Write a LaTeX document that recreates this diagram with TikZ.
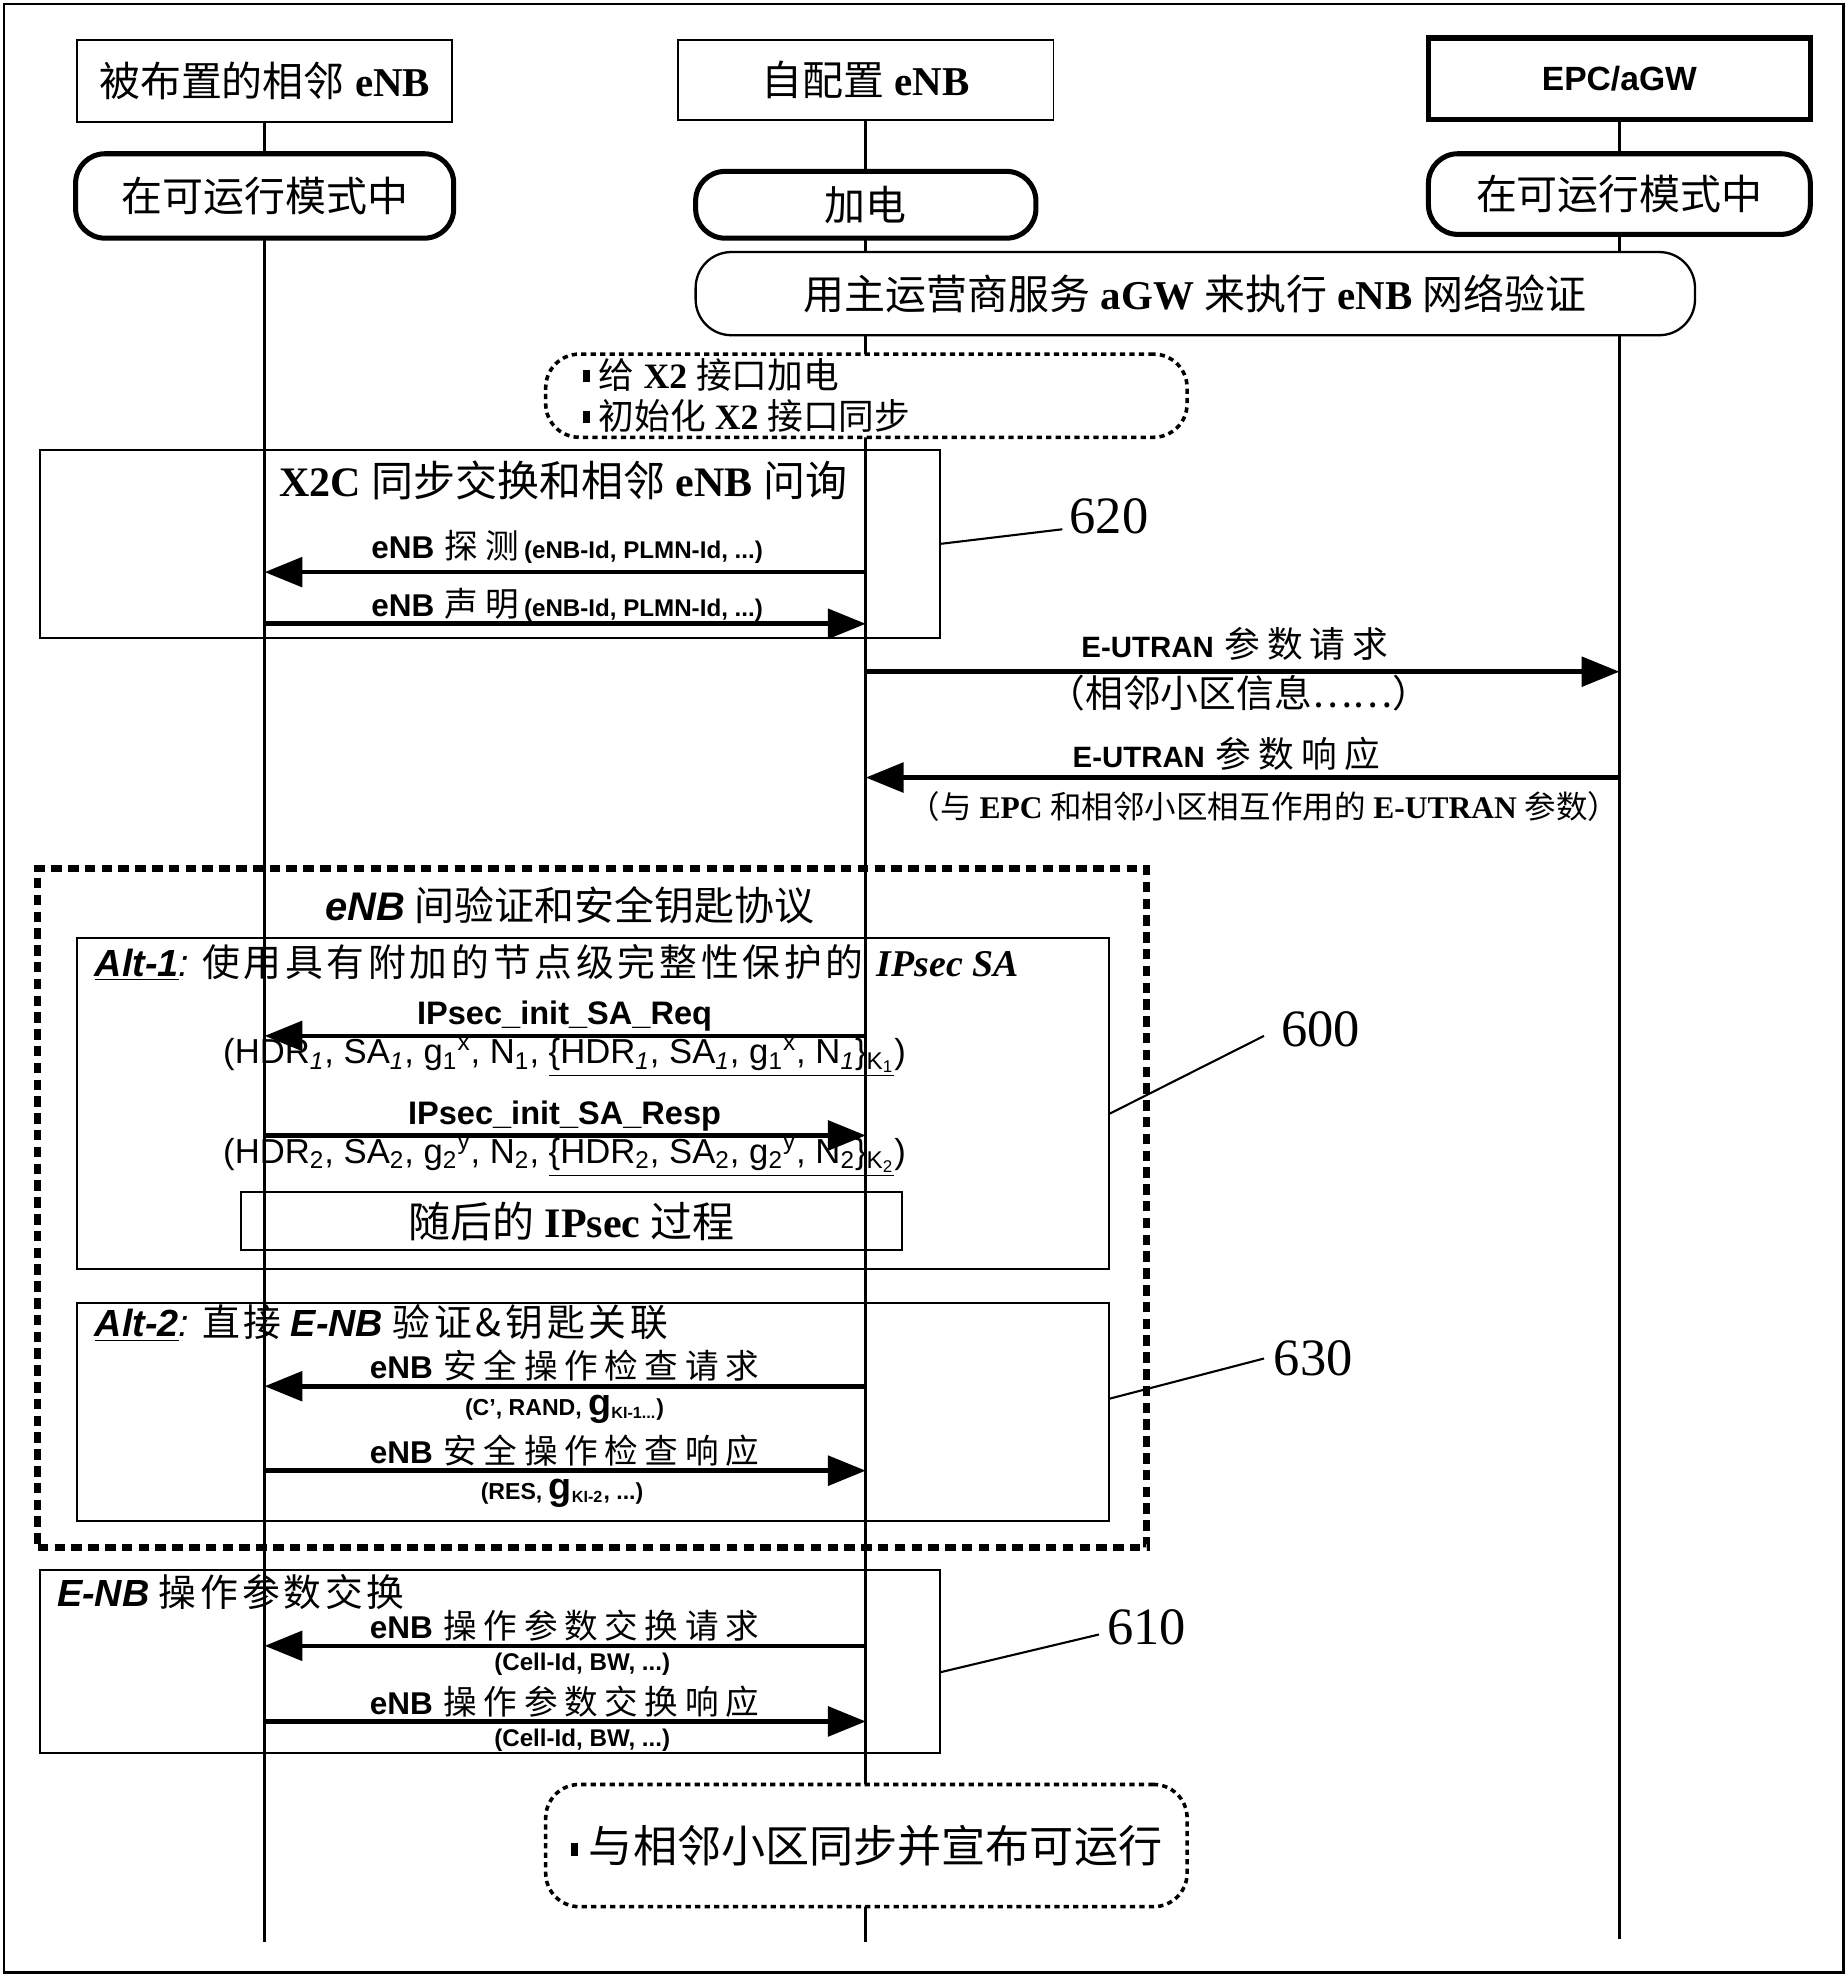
\documentclass[tikz,border=0pt]{standalone}
\usepackage{fontspec}
\setmainfont{Liberation Serif}
\newfontfamily\cjk{Noto Sans CJK SC}
\newfontfamily\cjkw[LetterSpace=20]{Noto Sans CJK SC}
\newfontfamily\cjkm[LetterSpace=10]{Noto Sans CJK SC}
\newfontfamily\ar{Liberation Sans}
\usetikzlibrary{arrows.meta}
\newcommand\zh[1]{{\cjk #1}}
\newcommand\zw[1]{{\cjkw #1}}
\newcommand\zm[1]{{\cjkm #1}}
\newcommand\fs[2]{\fontsize{#1}{#2}\selectfont}
\newcommand\sub[1]{\textsubscript{#1}}
\newcommand\bul{\rule[3pt]{3.5pt}{6pt}\ }
\begin{document}
\begin{tikzpicture}[x=0.6pt,y=-0.6pt,
  life/.style={line width=1.6pt},
  headbox/.style={draw,line width=0.9pt,fill=white,inner sep=0,font=\fs{19.5}{22}},
  statebox/.style={draw,line width=2.4pt,rounded corners=14pt,fill=white,inner sep=0,font=\fs{19.5}{22}},
  framebox/.style={draw,line width=1pt,inner sep=0},
  msgarrow/.style={line width=2.2pt,-{Triangle[length=18pt,width=14pt]}},
  lbl/.style={inner sep=0},
  num/.style={inner sep=0,font=\fs{25}{28}},
  lead/.style={line width=1pt},
  dotbox/.style={draw,line width=1.7pt,dash pattern=on 2.5pt off 2pt,rounded corners=16pt,fill=white,inner sep=0},
  bigdash/.style={draw,line width=3.2pt,dash pattern=on 5pt off 3pt,inner sep=0},
]
\useasboundingbox (0,0) rectangle (1466,1568);
\draw[line width=1.2pt] (3,3) rectangle (1463,1565);

% lifeline ends
\coordinate (e1) at (210,1541);
\coordinate (e2) at (687,1541);
\coordinate (e3) at (1285,1539);
\coordinate (b1) at (210,97);
\coordinate (b2) at (687,95);
\coordinate (b3) at (1285,95);
\draw[life] (b1) -- (e1);
\draw[life] (b2) -- (e2);
\draw[life] (b3) -- (e3);

% heads
\node[headbox,minimum width=178.8pt,minimum height=39pt] (h1) at (210,64.5) {\zh{被布置的相邻} \textbf{eNB}};
\node[headbox,minimum width=178.8pt,minimum height=37.8pt] (h2) at (687,63.5) {\zh{自配置} \textbf{eNB}};
\node[headbox,line width=2.6pt,minimum width=181.8pt,minimum height=39pt] (h3) at (1285,62.5) {\ar\bfseries\fs{16}{19}EPC/aGW};

% states
\node[statebox,minimum width=180pt,minimum height=40.2pt] (s1) at (210,155.5) {\zh{在可运行模式中}};
\node[statebox,minimum width=162pt,minimum height=31.8pt] (s2) at (687,162.5) {\zh{加电}};
\node[statebox,minimum width=181.8pt,minimum height=38.4pt] (s3) at (1285,154) {\zh{在可运行模式中}};

\node[draw,line width=1.1pt,rounded corners=17pt,fill=white,inner sep=0,minimum width=475.8pt,minimum height=39.6pt,font=\fs{19.5}{22}] (auth) at (948.5,233) {\zh{用主运营商服务} \textbf{aGW} \zh{来执行} \textbf{eNB} \zh{网络验证}};

\node[dotbox,minimum width=305.4pt,minimum height=39.6pt] (dash1) at (687.5,314) {};
\node[lbl,anchor=west,align=left,font=\fs{17}{19.5}] (dash1t) at (462,314) {\bul\zh{给} \textbf{X2} \zh{接口加电}\\ \bul\zh{初始化} \textbf{X2} \zh{接口同步}};

% X2C box
\node[framebox,minimum width=428.4pt,minimum height=89.4pt] (x2c) at (389,431.5) {};
\node[lbl,font=\fs{20}{24}] (x2ct) at (447,381) {\textbf{X2C} \zh{同步交换和相邻} \textbf{eNB} \zh{问询}};

\coordinate (m1r) at (687,454); \coordinate (m1l) at (210,454);
\draw[msgarrow] (m1r) -- (m1l);
\node[lbl] (m1t) at (450,434) {{\ar\bfseries\fs{15}{18}eNB}\enspace\zw{\fs{16}{19}探测}\ {\ar\bfseries\fs{11.5}{13}(eNB-Id, PLMN-Id, ...)}};
\coordinate (m2l) at (210,495); \coordinate (m2r) at (687,495);
\draw[msgarrow] (m2l) -- (m2r);
\node[lbl] (m2t) at (450,480) {{\ar\bfseries\fs{15}{18}eNB}\enspace\zw{\fs{16}{19}声明}\ {\ar\bfseries\fs{11.5}{13}(eNB-Id, PLMN-Id, ...)}};

\node[num] (n620) at (880,410) {620};
\coordinate (c620) at (843,420);
\draw[lead] (x2c.east) -- (c620);

% E-UTRAN
\coordinate (m3l) at (687,533); \coordinate (m3r) at (1285,533);
\draw[msgarrow] (m3l) -- (m3r);
\node[lbl] (m3t) at (980,511) {{\ar\bfseries\fs{14}{17}E-UTRAN}\ \ \zw{\fs{17}{20}参数请求}};
\node[lbl] (m3p) at (983,550) {\zh{\fs{18}{20}（相邻小区信息……）}};
\coordinate (m4r) at (1285,617); \coordinate (m4l) at (687,617);
\draw[msgarrow] (m4r) -- (m4l);
\node[lbl] (m4t) at (973,598) {{\ar\bfseries\fs{14}{17}E-UTRAN}\ \ \zw{\fs{17}{20}参数响应}};
\node[lbl,font=\fs{15}{17}] (m4p) at (1003,640) {\zh{（与} \textbf{EPC} \zh{和相邻小区相互作用的} \textbf{E-UTRAN} \zh{参数）}};

% big dashed box
\node[bigdash,minimum width=528pt,minimum height=323.4pt] (dbig) at (470,958.5) {};
\node[lbl,font=\fs{19}{22}] (dbigt) at (452,718) {{\ar\bfseries\itshape eNB} \zh{间验证和安全钥匙协议}};

% Alt-1
\node[framebox,minimum width=491.4pt,minimum height=157.8pt] (alt1) at (470.5,875.5) {};
\node[lbl,anchor=west,font=\fs{18}{21}] (alt1t) at (75,764) {\underline{\ar\bfseries\itshape Alt-1}{\ar\itshape :} \zm{使用具有附加的节点级完整性保护的} \textbf{\itshape IPsec SA}};
\coordinate (m5r) at (687,822); \coordinate (m5l) at (210,822);
\draw[msgarrow] (m5r) -- (m5l);
\node[lbl] (m5t) at (448,806) {\ar\bfseries\fs{15.5}{18}IPsec\_init\_SA\_Req};
\node[lbl] (m5p) at (448,839) {\ar\fs{16.5}{18}(HDR\sub{\itshape 1}, SA\sub{\itshape 1}, g\sub{1}\textsuperscript{x}, N\sub{1}, \underline{\{HDR\sub{\itshape 1}, SA\sub{\itshape 1}, g\sub{1}\textsuperscript{x}, N\sub{\itshape 1}\}\sub{K\sub{1}}})};
\coordinate (m6l) at (210,901); \coordinate (m6r) at (687,901);
\draw[msgarrow] (m6l) -- (m6r);
\node[lbl] (m6t) at (448,886) {\ar\bfseries\fs{15.5}{18}IPsec\_init\_SA\_Resp};
\node[lbl] (m6p) at (448,918) {\ar\fs{16.5}{18}(HDR\sub{2}, SA\sub{2}, g\sub{2}\textsuperscript{y}, N\sub{2}, \underline{\{HDR\sub{2}, SA\sub{2}, g\sub{2}\textsuperscript{y}, N\sub{2}\}\sub{K\sub{2}}})};
\node[framebox,minimum width=315pt,minimum height=27.6pt,font=\fs{20}{24}] (ipsec) at (453.5,969) {\zh{随后的} \textbf{IPsec} \zh{过程}};

\node[num] (n600) at (1048,817) {600};
\coordinate (c600a) at (880,884); \coordinate (c600b) at (1003,822);
\draw[lead] (c600a) -- (c600b);

% Alt-2
\node[framebox,minimum width=491.4pt,minimum height=103.8pt] (alt2) at (470.5,1120.5) {};
\node[lbl,anchor=west,font=\fs{18}{21}] (alt2t) at (75,1050) {\underline{\ar\bfseries\itshape Alt-2}{\ar\itshape :} \zm{直接} {\ar\bfseries\itshape E-NB} \zm{验证\&钥匙关联}};
\coordinate (m7r) at (687,1100); \coordinate (m7l) at (210,1100);
\draw[msgarrow] (m7r) -- (m7l);
\node[lbl] (m7t) at (448,1084) {{\ar\bfseries\fs{15}{18}eNB}\enspace\zw{\fs{16}{19}安全操作检查请求}};
\node[lbl] (m7p) at (448,1118) {\ar\bfseries\fs{11}{13}(C’, RAND, {\fs{18}{18}g}\sub{KI-1...})};
\coordinate (m8l) at (210,1167); \coordinate (m8r) at (687,1167);
\draw[msgarrow] (m8l) -- (m8r);
\node[lbl] (m8t) at (448,1151) {{\ar\bfseries\fs{15}{18}eNB}\enspace\zw{\fs{16}{19}安全操作检查响应}};
\node[lbl] (m8p) at (446,1185) {\ar\bfseries\fs{11}{13}(RES, {\fs{18}{18}g}\sub{KI-2}, ...)};

\node[num] (n630) at (1042,1078) {630};
\coordinate (c630a) at (880,1110); \coordinate (c630b) at (1003,1078);
\draw[lead] (c630a) -- (c630b);

% ops exchange
\node[framebox,minimum width=428.4pt,minimum height=87pt] (ops) at (389,1318.5) {};
\node[lbl,anchor=west,font=\fs{18}{21}] (opst) at (45,1263) {{\ar\bfseries\itshape E-NB} \zm{操作参数交换}};
\coordinate (m9r) at (687,1306); \coordinate (m9l) at (210,1306);
\draw[msgarrow] (m9r) -- (m9l);
\node[lbl] (m9t) at (448,1290) {{\ar\bfseries\fs{15}{18}eNB}\enspace\zw{\fs{16}{19}操作参数交换请求}};
\node[lbl] (m9p) at (462,1321) {\ar\bfseries\fs{11.5}{13}(Cell-Id, BW, ...)};
\coordinate (m10l) at (210,1366); \coordinate (m10r) at (687,1366);
\draw[msgarrow] (m10l) -- (m10r);
\node[lbl] (m10t) at (448,1350) {{\ar\bfseries\fs{15}{18}eNB}\enspace\zw{\fs{16}{19}操作参数交换响应}};
\node[lbl] (m10p) at (462,1381) {\ar\bfseries\fs{11.5}{13}(Cell-Id, BW, ...)};

\node[num] (n610) at (910,1291) {610};
\coordinate (c610a) at (746,1327); \coordinate (c610b) at (872,1297);
\draw[lead] (c610a) -- (c610b);

\node[dotbox,minimum width=305.4pt,minimum height=58.2pt,font=\fs{21}{24}] (dash2) at (687.5,1464.5) {\bul\zh{与相邻小区同步并宣布可运行}};
\end{tikzpicture}
\end{document}
